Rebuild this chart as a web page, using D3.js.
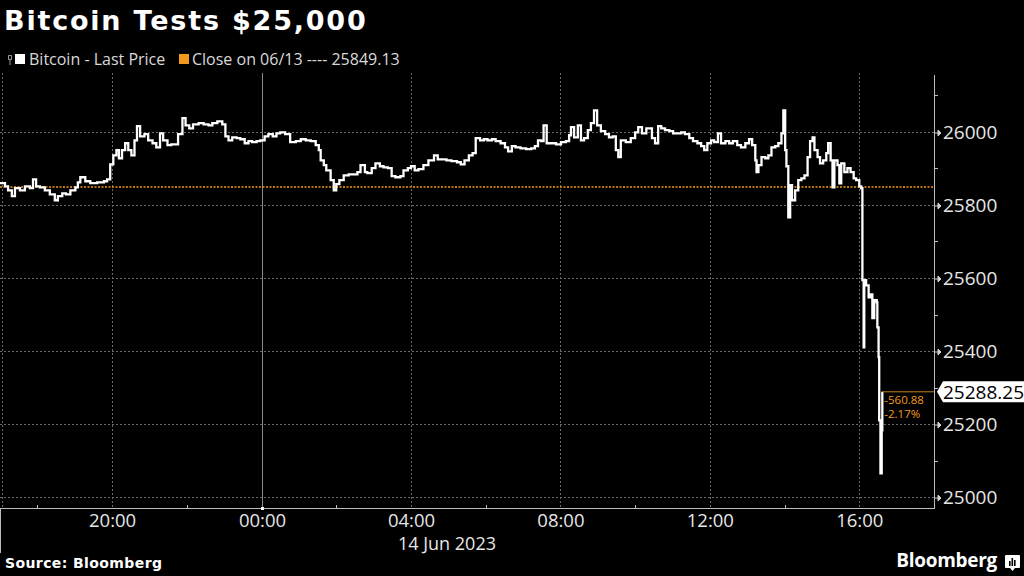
<!DOCTYPE html>
<html>
<head>
<meta charset="utf-8">
<script src="https://cdn.jsdelivr.net/npm/d3@7"></script>
<style>
  html, body { margin: 0; padding: 0; background: #000; }
  svg { display: block; }
</style>
</head>
<body>
<svg id="chart"></svg>
<script>

// minutes after 13 Jun 2023 17:00
let minutes = [0,8,13,19,24,32,40,48,53,58,64,72,80,88,93,100,106,113,121,125,129,137,145,156,167,172,177,182,187,191,196,201,206,211,216,220,225,232,238,245,251,257,262,269,275,282,286,293,298,304,310,319,327,335,341,349,357,362,367,373,380,386,393,399,405,412,418,425,431,438,444,450,458,466,475,483,491,499,507,512,515,520,524,531,536,540,545,552,560,568,574,579,586,590,597,603,610,616,623,629,635,643,648,655,660,666,672,680,688,697,703,709,717,725,734,740,746,753,759,764,771,777,783,790,796,804,811,816,822,828,836,845,853,859,864,869,873,878,885,893,901,909,914,917,922,928,933,938,944,949,954,959,965,972,978,984,989,993,997,1005,1013,1020,1025,1031,1038,1042,1047,1052,1057,1062,1068,1075,1081,1087,1094,1100,1107,1113,1120,1126,1131,1136,1142,1147,1153,1158,1165,1171,1177,1184,1190,1197,1203,1208,1213,1215,1218,1223,1229,1234,1239,1245,1250,1255,1258,1261,1263,1266,1269,1272,1277,1282,1287,1292,1297,1301,1305,1308,1313,1317,1322,1327,1330,1334,1337,1340,1345,1348,1351,1356,1361,1366,1371,1375,1380,1383,1385,1387,1388,1391,1395,1398,1401,1404,1408,1409,1411,1412,1414,1416,1417];

let prices = [25860,25851,25840,25824,25846,25840,25851,25846,25870,25851,25848,25840,25829,25813,25824,25832,25829,25840,25848,25862,25876,25865,25860,25862,25865,25870,25911,25936,25950,25928,25950,25969,25950,25936,25977,26016,25988,25994,25977,25969,25958,25996,25977,25964,25966,25966,25994,26038,26018,26010,26021,26024,26021,26018,26024,26029,26021,25988,25977,25985,25983,25980,25969,25975,25972,25975,25977,25988,25994,25988,25996,25999,25994,25972,25975,25980,25977,25975,25964,25950,25922,25909,25895,25868,25840,25857,25868,25881,25884,25884,25890,25909,25890,25887,25901,25914,25906,25903,25901,25879,25876,25879,25895,25901,25906,25895,25898,25909,25922,25936,25925,25925,25922,25920,25917,25911,25922,25936,25942,25983,25977,25980,25977,25980,25975,25969,25958,25947,25961,25958,25955,25953,25955,25961,25977,25975,26018,25969,25969,25966,25972,25975,25991,26013,25985,26018,25977,25983,26005,26024,26059,26018,26002,25994,25985,25988,25950,25931,25977,25972,25983,25999,26013,25996,26010,26010,25983,25969,26016,26010,26005,26002,25996,25996,25999,25994,25983,25975,25969,25961,25950,25969,25977,25972,25996,25969,25975,25969,25975,25964,25958,25969,25980,25964,25922,25890,25909,25931,25928,25936,25958,25961,25969,25996,26059,25950,25906,25766,25854,25813,25840,25868,25873,25881,25931,25975,25985,25950,25931,25914,25922,25942,25969,25922,25848,25922,25909,25859,25914,25890,25901,25890,25873,25868,25851,25846,25594,25410,25594,25580,25547,25555,25490,25539,25533,25465,25383,25210,25065,25183,25288.25];

let closePrev = 25849.13;
let lastPrice = 25288.25;
let changeAbs = "-560.88";
let changePct = "-2.17%";

let yTicks = [25000,25200,25400,25600,25800,26000];
let yMinorTicks = [25100,25300,25500,25700,25900,26100];
let xTickHours = [20,4,8,12,16];
let xMinorHours = [18,22,2,6,10,14];

let orange = "#f39a1e";
let font = "'Open Sans', 'DejaVu Sans', sans-serif";
let fontBold = "'DejaVu Sans', sans-serif";

let w = 1024, h = 576;
let plot = {left: 0, right: 934, top: 75, bottom: 508};

let svg = d3.select("#chart")
    .attr("width", w)
    .attr("height", h)
    .style("background", "#000");

let start = new Date(2023, 5, 13, 17, 0);
let end = new Date(2023, 5, 14, 18, 0);
let data = minutes.map((m, i) => ({t: d3.timeMinute.offset(start, m), v: prices[i]}));

let x = d3.scaleTime()
    .domain([start, end])
    .range([plot.left, plot.right]);

let y = d3.scaleLinear()
    .domain([24970, 26156])
    .range([plot.bottom, plot.top]);

// hour -> date on the visible window
let hourDate = hr => hr >= 17 ? new Date(2023, 5, 13, hr) : new Date(2023, 5, 14, hr);

//Grille horizontale
svg.append("g")
  .selectAll("line")
  .data(yTicks)
  .enter()
  .append("line")
  .attr("x1", plot.left)
  .attr("x2", plot.right)
  .attr("y1", d => Math.round(y(d)) + 0.5)
  .attr("y2", d => Math.round(y(d)) + 0.5)
  .style("stroke", "#6a6a6a")
  .style("stroke-width", 1)
  .style("stroke-dasharray", "2,2");

//Grille verticale
svg.append("g")
  .selectAll("line")
  .data(xTickHours)
  .enter()
  .append("line")
  .attr("x1", d => Math.round(x(hourDate(d))) + 0.5)
  .attr("x2", d => Math.round(x(hourDate(d))) + 0.5)
  .attr("y1", plot.top - 2)
  .attr("y2", plot.bottom)
  .style("stroke", "#6a6a6a")
  .style("stroke-width", 1)
  .style("stroke-dasharray", "2,2");

svg.append("line")
  .attr("x1", 2.5).attr("x2", 2.5)
  .attr("y1", plot.top - 2).attr("y2", plot.bottom)
  .style("stroke", "#6a6a6a")
  .style("stroke-dasharray", "2,2");

// midnight separator
let midnight = Math.round(x(new Date(2023, 5, 14, 0))) + 0.5;
svg.append("line")
  .attr("x1", midnight).attr("x2", midnight)
  .attr("y1", plot.top - 2).attr("y2", plot.bottom)
  .style("stroke", "#8a8a8a")
  .style("stroke-width", 1);

//Ligne de clôture
svg.append("line")
  .attr("x1", plot.left)
  .attr("x2", plot.right)
  .attr("y1", y(closePrev))
  .attr("y2", y(closePrev))
  .style("stroke", orange)
  .style("stroke-width", 1.6)
  .style("stroke-dasharray", "2,1.5");

//Courbe du prix
let line = d3.line()
  .x(d => x(d.t))
  .y(d => y(d.v))
  .curve(d3.curveStepAfter);

svg.append("path")
  .datum(data)
  .attr("d", line)
  .style("fill", "none")
  .style("stroke", "#fff")
  .style("stroke-width", 2.3)
  .style("stroke-linejoin", "miter");

//Axe x
let xAxis = d3.axisBottom(x)
  .tickValues(xTickHours.map(hourDate))
  .tickFormat(d3.timeFormat("%H:%M"))
  .tickSize(0)
  .tickPadding(6);

let gx = svg.append("g")
  .attr("transform", `translate(0,${plot.bottom})`)
  .call(xAxis);

gx.select(".domain").remove();
gx.selectAll("text")
  .style("font-family", font)
  .style("font-size", "18.5px")
  .style("fill", "#e6e6e6");

// midnight label is added separately
gx.append("text")
  .attr("x", midnight)
  .attr("y", 6)
  .attr("dy", "0.71em")
  .attr("text-anchor", "middle")
  .style("font-family", font)
  .style("font-size", "18.5px")
  .style("fill", "#e6e6e6")
  .text("00:00");

svg.append("line")
  .attr("x1", 0).attr("x2", plot.right)
  .attr("y1", plot.bottom + 0.5).attr("y2", plot.bottom + 0.5)
  .style("stroke", "#bdbdbd");

svg.append("g")
  .selectAll("line")
  .data(xMinorHours)
  .enter()
  .append("line")
  .attr("x1", d => Math.round(x(hourDate(d))) + 0.5)
  .attr("x2", d => Math.round(x(hourDate(d))) + 0.5)
  .attr("y1", plot.bottom - 3)
  .attr("y2", plot.bottom)
  .style("stroke", "#bdbdbd");

svg.append("line")
  .attr("x1", 0.5).attr("x2", 0.5)
  .attr("y1", plot.bottom).attr("y2", 553)
  .style("stroke", "#bdbdbd");

svg.append("rect")
  .attr("x", midnight - 1.5).attr("y", plot.bottom - 1)
  .attr("width", 3).attr("height", 3)
  .style("fill", "#fff");

svg.append("text")
  .attr("x", 447)
  .attr("y", 550)
  .attr("text-anchor", "middle")
  .style("font-family", font)
  .style("font-size", "18px")
  .style("fill", "#e6e6e6")
  .text("14 Jun 2023");

//Axe y
let yAxis = d3.axisRight(y)
  .tickValues(yTicks)
  .tickFormat(d3.format("d"))
  .tickSize(0)
  .tickPadding(9);

let gy = svg.append("g")
  .attr("transform", `translate(${plot.right},0)`)
  .call(yAxis);

gy.select(".domain").remove();
gy.selectAll("text")
  .style("font-family", font)
  .style("font-size", "19px")
  .style("fill", "#e6e6e6");

gy.selectAll(".tick")
  .append("path")
  .attr("d", "M1,0.5H4M4,-2.5L7,0.5L4,3.5Z")
  .style("stroke", "#d0d0d0")
  .style("fill", "#d0d0d0");

svg.append("line")
  .attr("x1", plot.right + 0.5).attr("x2", plot.right + 0.5)
  .attr("y1", plot.top).attr("y2", plot.bottom + 1)
  .style("stroke", "#bdbdbd");

svg.append("g")
  .selectAll("line")
  .data(yMinorTicks)
  .enter()
  .append("line")
  .attr("x1", plot.right)
  .attr("x2", plot.right + 4)
  .attr("y1", d => Math.round(y(d)) + 0.5)
  .attr("y2", d => Math.round(y(d)) + 0.5)
  .style("stroke", "#bdbdbd");

//Dernier prix
let lastX = x(data[data.length - 1].t);
let lastY = y(lastPrice);

svg.append("line")
  .attr("x1", lastX).attr("x2", plot.right)
  .attr("y1", lastY).attr("y2", lastY)
  .style("stroke", "#c77d22")
  .style("stroke-width", 1);

svg.append("path")
  .attr("d", `M${plot.right + 3},${lastY} L${plot.right + 9},${lastY - 10.5} H${w} V${lastY + 10.5} H${plot.right + 9} Z`)
  .style("fill", "#fff");

svg.append("text")
  .attr("x", plot.right + 9)
  .attr("y", lastY)
  .attr("dy", "0.36em")
  .style("font-family", font)
  .style("font-size", "19px")
  .style("fill", "#000")
  .text(d3.format(".2f")(lastPrice));

svg.append("text")
  .attr("x", lastX + 2)
  .attr("y", lastY + 12)
  .style("font-family", font)
  .style("font-size", "11.5px")
  .style("fill", orange)
  .text(changeAbs);

svg.append("text")
  .attr("x", lastX + 2)
  .attr("y", lastY + 26)
  .style("font-family", font)
  .style("font-size", "11.5px")
  .style("fill", orange)
  .text(changePct);

//Titre
svg.append("text")
  .attr("x", 4)
  .attr("y", 30)
  .style("font-family", fontBold)
  .style("font-weight", "bold")
  .style("font-size", "27px")
  .style("letter-spacing", "1.8px")
  .style("fill", "#fff")
  .text("Bitcoin Tests $25,000");

//Légende
svg.append("path")
  .attr("d", "M8.5,55.5H11.5V59.5H8.5ZM10,59.5V65")
  .style("fill", "none")
  .style("stroke", "#999");

svg.append("rect")
  .attr("x", 15).attr("y", 54)
  .attr("width", 10).attr("height", 10)
  .style("fill", "#fff");

svg.append("text")
  .attr("x", 29).attr("y", 65)
  .style("font-family", font)
  .style("font-size", "16px")
  .style("fill", "#d9d9d9")
  .text("Bitcoin - Last Price");

svg.append("rect")
  .attr("x", 179).attr("y", 54)
  .attr("width", 10).attr("height", 10)
  .style("fill", orange);

svg.append("text")
  .attr("x", 192).attr("y", 65)
  .style("font-family", font)
  .style("font-size", "16px")
  .style("fill", "#d9d9d9")
  .text("Close on 06/13 ---- " + d3.format(".2f")(closePrev));

//Source et logo
svg.append("text")
  .attr("x", 5).attr("y", 568)
  .style("font-family", fontBold)
  .style("font-weight", "bold")
  .style("font-size", "14px")
  .style("letter-spacing", "0.4px")
  .style("fill", "#fff")
  .text("Source: Bloomberg");

svg.append("text")
  .attr("x", 997).attr("y", 567)
  .attr("text-anchor", "end")
  .style("font-family", font)
  .style("font-weight", "bold")
  .style("font-size", "19px")
  .style("letter-spacing", "-0.3px")
  .style("fill", "#fff")
  .text("Bloomberg");

let logo = svg.append("g").attr("transform", "translate(1005,555)");
logo.append("path")
  .attr("d", "M1,0H14Q15,0 15,1V12Q15,13 14,13H10L7.5,16L5,13H1Q0,13 0,12V1Q0,0 1,0Z")
  .style("fill", "#fff");
logo.selectAll("rect")
  .data([[4,6,5],[6.5,3,8],[9,5,6]])
  .enter()
  .append("rect")
  .attr("x", d => d[0]).attr("y", d => d[1])
  .attr("width", 1.6).attr("height", d => d[2])
  .style("fill", "#000");

</script>
</body>
</html>
